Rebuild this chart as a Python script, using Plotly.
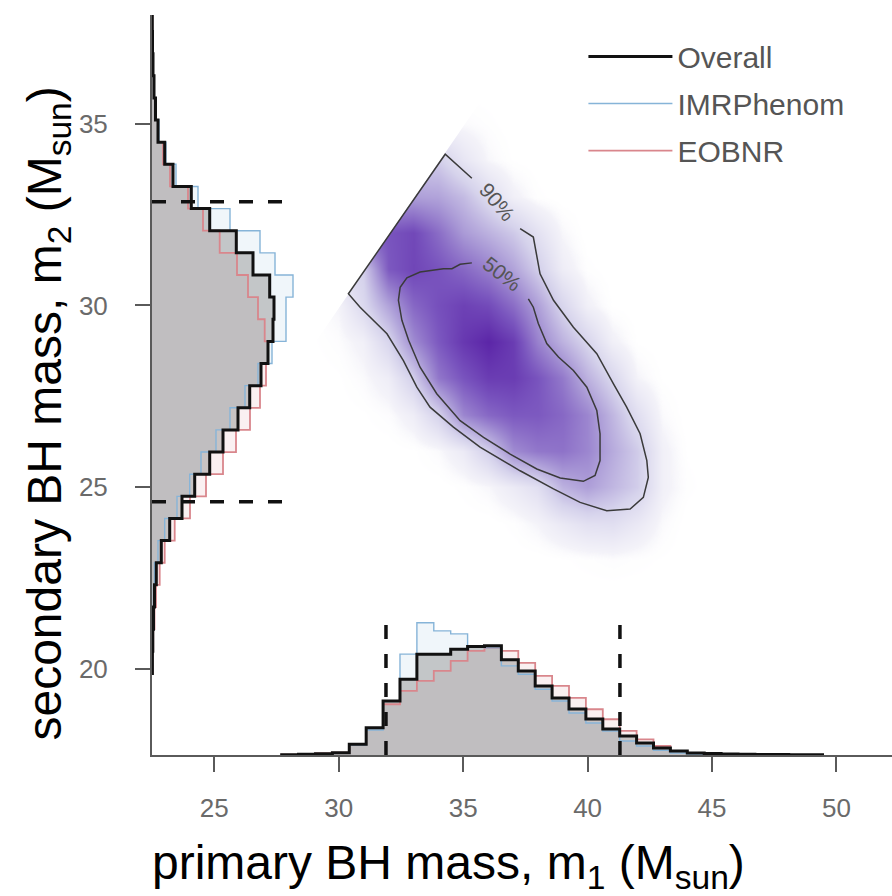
import plotly.graph_objects as go

# ---------------- data ----------------
# Marginal histogram of primary mass m1 (arbitrary density units)
m1_bin_start = 27.71
m1_bin_width = 0.679
m1_overall = [0.3, 0.7, 1.2, 2.3, 10.7, 27.3, 54, 75.7, 100.7, 100.7, 105.7, 108.3, 109, 95,
              84, 69, 57, 46, 36, 26, 19, 12, 7, 4, 2, 1.5, 1.0, 0.7, 0.5, 0.4, 0.3, 0.2]
m1_imr = [0.2, 0.5, 1.0, 2.0, 10, 25, 54, 100.7, 132, 124, 121, 109, 107, 89,
          80.7, 65.7, 54, 42, 32, 24, 14, 9, 4.7, 2, 1, 0.6, 0.3, 0.2, 0.1, 0, 0, 0]
m1_eob = [0.4, 0.9, 1.5, 2.3, 10.7, 27, 50.7, 64, 74, 84, 94, 104, 107, 104,
          92, 79, 69, 57, 45.7, 35.7, 24, 15.7, 9, 4, 2, 1.2, 0.7, 0.4, 0.2, 0.1, 0, 0]

# Marginal histogram of secondary mass m2 (arbitrary density units), ascending m2
m2_bin_start = 19.875
m2_bin_width = 0.609
m2_overall = [0.4, 0.8, 1.5, 2.5, 4.3, 9.3, 17.7, 30, 42.7, 57.7, 71, 86, 97.7, 109, 116,
              121, 122, 117.7, 101, 84.3, 57.7, 39.3, 21, 12.7, 6, 3.5, 2, 1, 0.5, 0.3]
m2_imr = [0.2, 0.4, 0.8, 1.5, 2.5, 6, 12.7, 25, 37.7, 49, 64, 78, 93, 106, 120,
          134, 134, 141, 123, 108, 78, 46, 24, 14, 7, 4, 2.2, 1.1, 0.5, 0.3]
m2_eob = [0.6, 1.2, 2.5, 4, 7.7, 12.7, 22.7, 38, 54, 71, 84, 98, 108, 114, 116,
          112.7, 106, 96, 85, 67.7, 51, 36, 18, 11, 6, 3.5, 2, 1, 0.5, 0.3]

# 90% credible intervals (dashed markers) and marker lengths (density units)
m1_interval = [31.9, 41.3]
m2_interval = [24.6, 32.85]
m1_marker_height = 130
m2_marker_height = 138

# 2-D posterior density (relative), rows = m2, columns = m1
dens_m1 = [29, 30, 31, 32, 33, 34, 35, 36, 37, 38, 39, 40, 41, 42, 43, 44, 45, 46]
dens_m2 = [22, 23, 24, 25, 26, 27, 28, 29, 30, 31, 32, 33, 34, 35, 36, 37]
dens_z = [
    [0, 0, 0, 0, 0, 0, 0, 0, 0, 0, 0, 0, 0, 0, 0, 0, 0, 0],
    [0, 0, 0, 0, 0, 0, 0, 0, 0, 0, .01, .02, .03, .02, .01, 0, 0, 0],
    [0, 0, 0, 0, 0, 0, 0, 0, .02, .06, .13, .19, .2, .13, .04, 0, 0, 0],
    [0, 0, 0, 0, 0, 0, .02, .05, .12, .2, .42, .5, .4, .3, .08, .02, 0, 0],
    [0, 0, 0, 0, .01, .04, .12, .3, .58, .66, .68, .6, .45, .31, .08, .01, 0, 0],
    [0, 0, .01, .03, .1, .28, .6, .72, .78, .78, .72, .6, .4, .2, .04, 0, 0, 0],
    [0, .01, .04, .1, .3, .66, .8, .9, .9, .8, .65, .42, .25, .06, .01, 0, 0, 0],
    [.01, .03, .08, .26, .58, .78, .92, 1.0, .9, .62, .42, .26, .08, .01, 0, 0, 0, 0],
    [.02, .06, .24, .48, .72, .82, .88, .84, .7, .5, .26, .08, .01, 0, 0, 0, 0, 0],
    [.2, .2, .3, .78, .86, .8, .72, .62, .48, .3, .1, .02, 0, 0, 0, 0, 0, 0],
    [.8, .8, .8, .8, .85, .7, .52, .42, .32, .18, .05, 0, 0, 0, 0, 0, 0, 0],
    [.5, .5, .5, .5, .5, .48, .38, .22, .08, .02, 0, 0, 0, 0, 0, 0, 0, 0],
    [.3, .3, .3, .3, .3, .3, .15, .05, .01, 0, 0, 0, 0, 0, 0, 0, 0, 0],
    [.05, .05, .05, .05, .05, .05, .04, .02, 0, 0, 0, 0, 0, 0, 0, 0, 0, 0],
    [0, 0, 0, 0, 0, 0, 0, 0, 0, 0, 0, 0, 0, 0, 0, 0, 0, 0],
    [0, 0, 0, 0, 0, 0, 0, 0, 0, 0, 0, 0, 0, 0, 0, 0, 0, 0],
]

# Credible-region contours (gap left for the labels)
c90_m1 = [37.29, 37.82, 38.09, 38.63, 39.43, 40.37, 41.04, 41.57, 42.11, 42.38, 42.44, 42.24,
          41.71, 40.77, 39.70, 38.63, 37.29, 35.68, 34.61, 33.67, 33.14, 32.60, 31.94, 30.86,
          30.39, 34.28, 35.35]
c90_m2 = [32.11, 31.88, 30.87, 30.14, 29.40, 28.67, 27.84, 27.20, 26.47, 25.73, 25.27, 24.72,
          24.40, 24.35, 24.58, 24.95, 25.45, 26.10, 26.65, 27.20, 27.75, 28.48, 29.22, 29.95,
          30.32, 34.16, 33.50]
c50_m1 = [37.62, 37.82, 38.02, 38.36, 38.83, 39.43, 39.97, 40.37, 40.50, 40.50, 40.30, 39.83,
          38.90, 37.96, 36.89, 35.82, 34.88, 33.94, 33.27, 32.81, 32.54, 32.40, 32.47, 32.74,
          33.27, 34.21, 34.55, 34.88, 35.35]
c50_m2 = [30.18, 29.95, 29.50, 28.95, 28.58, 28.21, 27.75, 27.11, 26.47, 25.73, 25.32, 25.16,
          25.25, 25.50, 25.91, 26.37, 26.83, 27.57, 28.30, 29.04, 29.59, 30.14, 30.50, 30.76,
          30.92, 31.01, 31.01, 31.13, 31.17]
label_90 = (36.35, 32.85)
label_50 = (36.55, 30.87)

# region beyond the m1 = m2 cut (left blank)
cut_m1 = [28.4, 39.5, 28.4]
cut_m2 = [28.32, 39.42, 39.42]

x_ticks = [25, 30, 35, 40, 45, 50]
y_ticks = [20, 25, 30, 35]

# ---------------- styling ----------------
FONT = "Liberation Sans, Arial, sans-serif"
BLACK = "#111111"
BLUE = "#86b4d8"
PINK = "#d9868c"
AXIS = "#5a5a5a"


def edges(start, width, n):
    return [start + width * i for i in range(n + 1)]


fig = go.Figure()

# 2-D density
fig.add_trace(go.Heatmap(
    x=dens_m1, y=dens_m2, z=dens_z, zmin=0, zmax=1, zsmooth="best",
    colorscale=[[0, "rgba(255,255,255,0)"], [0.06, "rgb(244,243,249)"],
                [0.28, "rgb(214,211,236)"], [0.55, "rgb(165,147,212)"],
                [0.8, "rgb(121,84,190)"], [1, "rgb(92,38,168)"]],
    showscale=False, hoverinfo="skip", xaxis="x", yaxis="y"))
fig.add_trace(go.Scatter(x=cut_m1, y=cut_m2, fill="toself", fillcolor="white",
                         mode="none", showlegend=False, hoverinfo="skip"))
fig.add_trace(go.Scatter(x=c90_m1, y=c90_m2, mode="lines",
                         line=dict(color="#3a3a3a", width=1.5), showlegend=False))
fig.add_trace(go.Scatter(x=c50_m1, y=c50_m2, mode="lines",
                         line=dict(color="#3a3a3a", width=1.5), showlegend=False))

# m1 marginal (bottom)
e1 = edges(m1_bin_start, m1_bin_width, len(m1_overall))
def m1_step(vals):
    return [e1[0]] + e1, [0] + list(vals) + [0]

for vals, col in [(m1_imr, "rgba(134,180,216,0.12)"), (m1_eob, "rgba(217,134,140,0.12)"),
                  (m1_overall, "rgba(140,140,140,0.45)")]:
    xs, ys = m1_step(vals)
    fig.add_trace(go.Scatter(x=xs, y=ys, xaxis="x", yaxis="y2", mode="lines",
                             line=dict(width=0, shape="hv"), fill="tozeroy", fillcolor=col,
                             showlegend=False, hoverinfo="skip"))
for vals, col, w, name, rank in [(m1_eob, PINK, 1.8, "EOBNR", 3), (m1_imr, BLUE, 1.4, "IMRPhenom", 2),
                                 (m1_overall, BLACK, 3, "Overall", 1)]:
    xs, ys = m1_step(vals)
    fig.add_trace(go.Scatter(x=xs, y=ys, xaxis="x", yaxis="y2", mode="lines",
                             line=dict(color=col, width=w, shape="hv"), name=name,
                             legendgroup=name, legendrank=rank, showlegend=True))

# m2 marginal (left)
e2 = edges(m2_bin_start, m2_bin_width, len(m2_overall))
def m2_step(vals):
    return [0] + list(vals) + [0], [e2[0]] + e2

for vals, col in [(m2_imr, "rgba(134,180,216,0.12)"), (m2_eob, "rgba(217,134,140,0.12)"),
                  (m2_overall, "rgba(140,140,140,0.45)")]:
    xs, ys = m2_step(vals)
    fig.add_trace(go.Scatter(x=xs, y=ys, xaxis="x2", yaxis="y", mode="lines",
                             line=dict(width=0, shape="vh"), fill="tozerox", fillcolor=col,
                             showlegend=False, hoverinfo="skip"))
for vals, col, w in [(m2_eob, PINK, 1.8), (m2_imr, BLUE, 1.4), (m2_overall, BLACK, 3)]:
    xs, ys = m2_step(vals)
    fig.add_trace(go.Scatter(x=xs, y=ys, xaxis="x2", yaxis="y", mode="lines",
                             line=dict(color=col, width=w, shape="vh"), showlegend=False))

# interval markers
for v in m1_interval:
    fig.add_trace(go.Scatter(x=[v, v], y=[0, m1_marker_height], xaxis="x", yaxis="y2",
                             mode="lines", line=dict(color=BLACK, width=3.5, dash="14px,15px"),
                             showlegend=False))
for v in m2_interval:
    fig.add_trace(go.Scatter(x=[0, m2_marker_height], y=[v, v], xaxis="x2", yaxis="y",
                             mode="lines", line=dict(color=BLACK, width=3.5, dash="14px,15px"),
                             showlegend=False))

fig.add_annotation(x=label_90[0], y=label_90[1], text="90%", textangle=50, showarrow=False,
                   font=dict(size=21, color="#555555", family=FONT))
fig.add_annotation(x=label_50[0], y=label_50[1], text="50%", textangle=38, showarrow=False,
                   font=dict(size=21, color="#555555", family=FONT))

# axis titles
fig.add_annotation(xref="paper", yref="paper", x=0.4, y=-0.15, xanchor="center", yanchor="middle",
                   text="primary BH mass, m<sub>1</sub> (M<sub>sun</sub>)", showarrow=False,
                   font=dict(size=48, color="black", family=FONT))
fig.add_annotation(xref="paper", yref="paper", x=-0.14, y=0.462, xanchor="center", yanchor="middle",
                   text="secondary BH mass, m<sub>2</sub> (M<sub>sun</sub>)", showarrow=False,
                   textangle=-90, font=dict(size=48, color="black", family=FONT))

axis_common = dict(showgrid=False, zeroline=False, showline=True, linecolor=AXIS, linewidth=2,
                   ticks="outside", ticklen=15, tickwidth=2, tickcolor=AXIS, automargin=False,
                   tickfont=dict(size=26, color="#6a6a6a", family=FONT))
hidden_axis = dict(showgrid=False, zeroline=False, showline=False, ticks="", tickvals=[],
                   showticklabels=False, automargin=False)

fig.update_layout(
    width=892, height=896,
    margin=dict(l=152, r=0, t=15, b=141, autoexpand=False),
    paper_bgcolor="white", plot_bgcolor="white",
    font=dict(family=FONT),
    xaxis=dict(range=[22.5, 52.23], tickvals=x_ticks, ticklabelstandoff=14, **axis_common),
    yaxis=dict(range=[17.63, 37.99], tickvals=y_ticks, ticklabelstandoff=22, **axis_common),
    xaxis2=dict(overlaying="x", anchor="y", range=[0, 740], **hidden_axis),
    yaxis2=dict(overlaying="y", anchor="x", range=[0, 739], **hidden_axis),
    legend=dict(x=0.583, y=0.979, xanchor="left", yanchor="top", bgcolor="rgba(0,0,0,0)",
                font=dict(size=30, color="#555555", family=FONT), traceorder="grouped",
                tracegroupgap=5, itemwidth=84),
    showlegend=True,
)

fig.write_html("out.html", config={"displayModeBar": False},
               post_script="document.body.style.margin='0px';document.body.style.overflow='hidden';")
